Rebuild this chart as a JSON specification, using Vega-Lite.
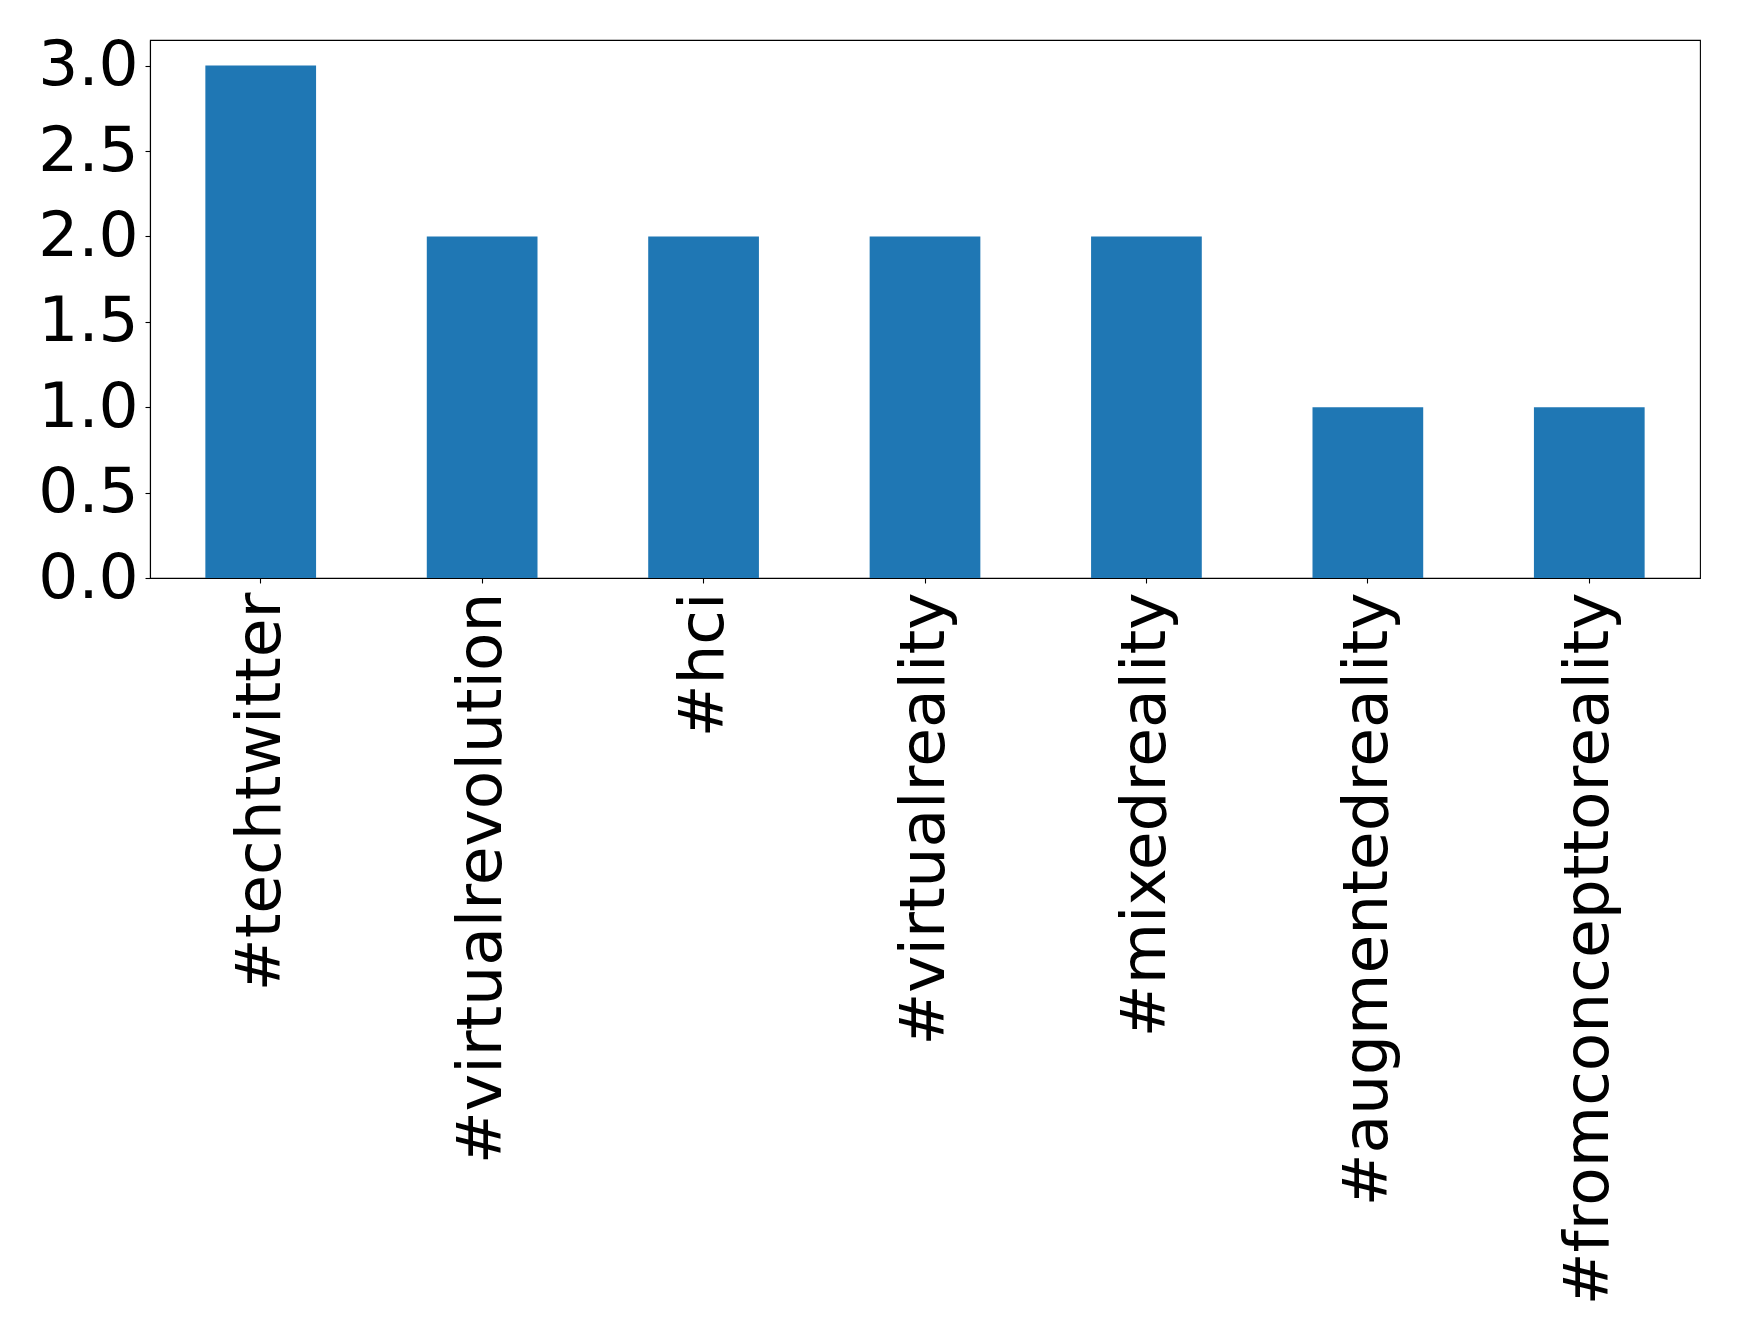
{
  "$schema": "https://vega.github.io/schema/vega-lite/v6.json",
  "width": 1550,
  "height": 538,
  "autosize": {"type": "none"},
  "padding": {"left": 150, "top": 40, "right": 39, "bottom": 757},
  "background": "white",
  "config": {
    "view": {"stroke": "black", "strokeWidth": 1.1},
    "font": "DejaVu Sans"
  },
  "data": {
    "values": [
      {"tag": "#techtwitter", "count": 3},
      {"tag": "#virtualrevolution", "count": 2},
      {"tag": "#hci", "count": 2},
      {"tag": "#virtualreality", "count": 2},
      {"tag": "#mixedreality", "count": 2},
      {"tag": "#augmentedreality", "count": 1},
      {"tag": "#fromconcepttoreality", "count": 1}
    ]
  },
  "mark": {"type": "bar", "color": "#1f77b4"},
  "encoding": {
    "x": {
      "field": "tag",
      "type": "nominal",
      "sort": null,
      "scale": {"paddingInner": 0.5, "paddingOuter": 0.25},
      "axis": {
        "title": null,
        "labelAngle": -90,
        "labelAlign": "right",
        "labelBaseline": "middle",
        "labelFont": "DejaVu Sans",
        "labelFontSize": 63,
        "labelColor": "black",
        "labelPadding": 9,
        "tickSize": 5,
        "tickColor": "black",
        "tickWidth": 1.1,
        "domainColor": "black",
        "domainWidth": 1.1,
        "labelLimit": 1000
      }
    },
    "y": {
      "field": "count",
      "type": "quantitative",
      "scale": {"domain": [0, 3.15], "nice": false, "zero": true},
      "axis": {
        "title": null,
        "values": [0, 0.5, 1, 1.5, 2, 2.5, 3],
        "format": ".1f",
        "grid": false,
        "labelFont": "DejaVu Sans",
        "labelFontSize": 63,
        "labelColor": "black",
        "labelPadding": 7,
        "labelBaseline": "middle",
        "tickSize": 5,
        "tickColor": "black",
        "tickWidth": 1.1,
        "domainColor": "black",
        "domainWidth": 1.1,
        "labelFlush": false,
        "labelOverlap": false
      }
    }
  }
}
